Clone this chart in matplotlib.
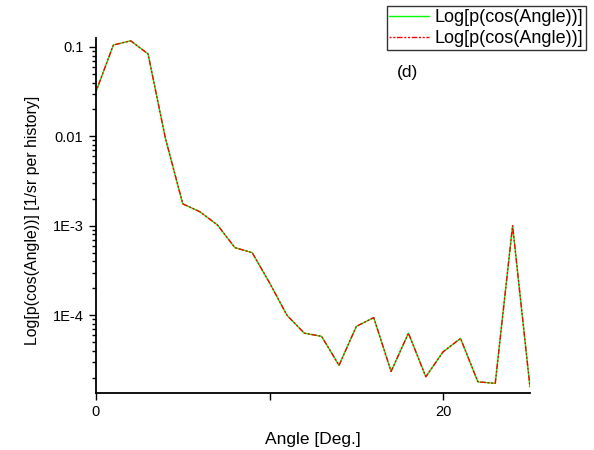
import numpy as np
import matplotlib
matplotlib.use("Agg")
import matplotlib.pyplot as plt
from matplotlib.ticker import LogLocator, NullFormatter

plt.rcParams['font.family'] = ['Liberation Sans', 'DejaVu Sans']

# angle (deg) and probability density
angle = list(range(26))
prob = [0.0316, 0.105, 0.117, 0.0835, 0.0095, 1.76e-3, 1.43e-3, 1.02e-3,
        5.7e-4, 5.0e-4, 2.3e-4, 1.0e-4, 6.3e-5, 5.8e-5, 2.75e-5, 7.5e-5,
        9.4e-5, 2.35e-5, 6.3e-5, 2.05e-5, 3.9e-5, 5.5e-5, 1.8e-5, 1.73e-5,
        1.0e-3, 1.58e-5]
series_label = "Log[p(cos(Angle))]"
ytick_vals = [1e-4, 1e-3, 1e-2, 1e-1]
ytick_labels = ["1E-4", "1E-3", "0.01", "0.1"]
xtick_vals = [0, 10, 20]
xtick_labels = ["0", "", "20"]

fig = plt.figure(figsize=(5.94, 4.5), dpi=100)
ax = fig.add_axes([0.1616, 0.1267, 0.7306, 0.789])

ax.plot(angle, prob, color="#00ff00", lw=1.0, label=series_label)
ax.plot(angle, prob, color="red", lw=1.0, ls=(0, (1.5, 1.2, 1.5, 1.2, 4, 1.2)),
        label=series_label)

ax.set_yscale("log")
ax.set_xlim(0, 25)
ax.set_ylim(1.35e-5, 0.126)

ax.set_yticks(ytick_vals)
ax.set_yticklabels(ytick_labels)
ax.yaxis.set_minor_locator(LogLocator(base=10, subs=np.arange(2, 10)))
ax.yaxis.set_minor_formatter(NullFormatter())
ax.set_xticks(xtick_vals)
ax.set_xticklabels(xtick_labels)

ax.tick_params(axis="both", which="major", direction="out", length=5, width=1,
               labelsize=10.5, pad=4, colors="black")
ax.tick_params(axis="y", which="minor", direction="out", length=3, width=1)

for s in ["top", "right"]:
    ax.spines[s].set_visible(False)
for s in ["left", "bottom"]:
    ax.spines[s].set_linewidth(1.3)

ax.set_xlabel("Angle [Deg.]", fontsize=12.5, labelpad=9)
ax.set_ylabel("Log[p(cos(Angle))] [1/sr per history]", fontsize=11.4)
ax.yaxis.set_label_coords(-0.13, 0.487)

fig.text(0.668, 0.84, "(d)", fontsize=12.5, va="center", ha="left")

leg = fig.legend(loc="upper right", bbox_to_anchor=(0.986, 0.986), fontsize=13,
                 frameon=True, fancybox=False, edgecolor="black",
                 handlelength=2.2, handletextpad=0.3, borderpad=0.15,
                 labelspacing=0.22, borderaxespad=0)
leg.get_frame().set_linewidth(1.0)

fig.savefig("out.png", dpi=100)
